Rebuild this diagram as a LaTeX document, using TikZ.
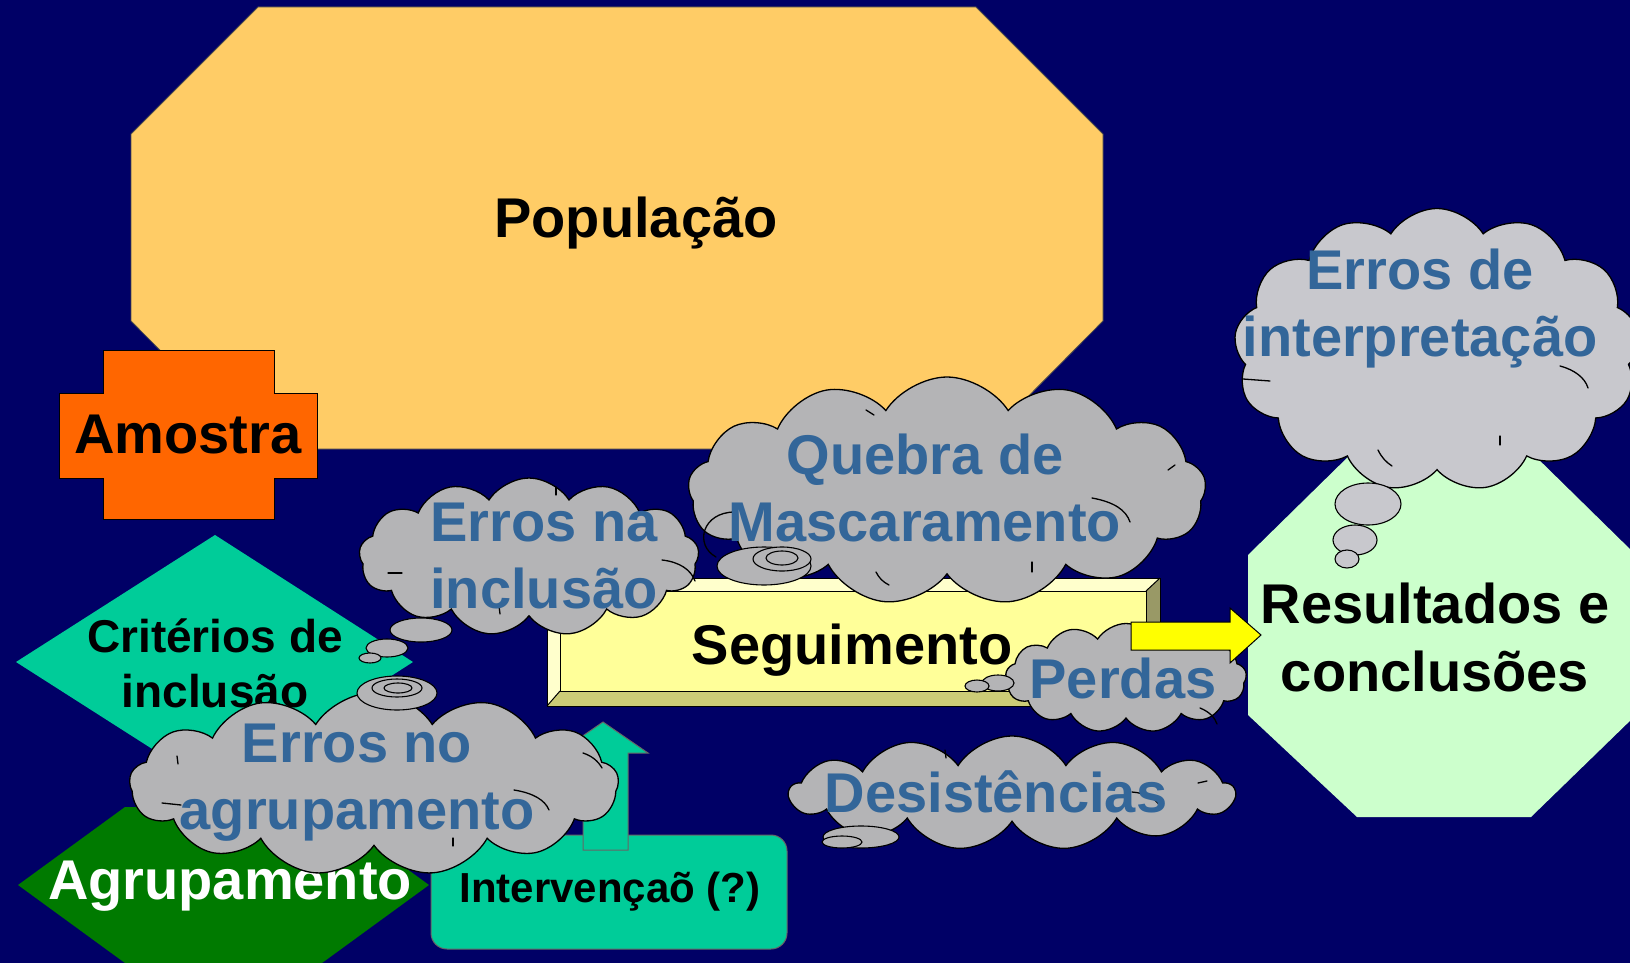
\documentclass[tikz,border=0pt]{standalone}
\usepackage{fontspec}
\setmainfont{Liberation Sans}
\usetikzlibrary{shapes.symbols,shapes.geometric}
\definecolor{navy}{RGB}{0,0,102}
\definecolor{popcol}{RGB}{255,204,102}
\definecolor{amocol}{RGB}{255,102,0}
\definecolor{teal}{RGB}{0,204,153}
\definecolor{agrcol}{RGB}{0,122,0}
\definecolor{segface}{RGB}{255,255,153}
\definecolor{seglight}{RGB}{255,255,204}
\definecolor{segdark}{RGB}{153,153,102}
\definecolor{segbot}{RGB}{204,204,119}
\definecolor{rescol}{RGB}{204,255,204}
\definecolor{cloudgray}{RGB}{180,180,182}
\definecolor{cloudlight}{RGB}{200,200,205}
\definecolor{cloudtext}{RGB}{51,102,153}
\definecolor{arrowyellow}{RGB}{255,255,0}
\tikzset{
  lbl/.style={font=\fontsize{56}{68}\selectfont\bfseries, text=black, align=center, inner sep=0pt},
  smalllbl/.style={font=\fontsize{46}{55}\selectfont\bfseries, text=black, align=center, inner sep=0pt},
  cloudlbl/.style={font=\fontsize{56}{67}\selectfont\bfseries, text=cloudtext, align=center, inner sep=0pt},
  cloudbox/.style={cloud, cloud puffs=13, cloud puff arc=115, cloud ignores aspect, fill=cloudgray, draw=black, line width=1.3pt, inner sep=0pt},
  bubble/.style={ellipse, fill=cloudgray, draw=black, line width=1.1pt, inner sep=0pt},
  crease/.style={draw=black, line width=1.3pt, line cap=round},
  outline/.style={draw=black, line width=1pt}
}
\begin{document}
\begin{tikzpicture}[x=1pt,y=-1pt]
\fill[navy] (0,0) rectangle (1630,963);
\useasboundingbox (0,0) rectangle (1630,963);

% Populacao
\draw[fill=popcol, draw=black!70, line width=0.8pt] (258,7) -- (976,7) -- (1103,134) -- (1103,321) -- (976,449) -- (258,449) -- (131,321) -- (131,134) -- cycle;
\node[lbl] (pop) at (636,223) {População};

% Amostra
\draw[fill=amocol, outline] (103,350) -- (274,350) -- (274,393) -- (317,393) -- (317,478) -- (274,478) -- (274,519) -- (103,519) -- (103,478) -- (59,478) -- (59,393) -- (103,393) -- cycle;
\node[lbl] (amo) at (188,435) {Amostra};

% Criterios de inclusao
\fill[teal] (16,662) -- (215,535) -- (413,662) -- (215,789) -- cycle;
\node[smalllbl] (crit) at (215,663) {Critérios de\\inclusão};

% Agrupamento
\fill[agrcol] (18,885) -- (125,807) -- (322,807) -- (429,885) -- (322,963) -- (125,963) -- cycle;
\node[lbl, text=white] (agr) at (230,886) {Agrupamento};

% Intervencao
\draw[fill=teal, draw=black!60, line width=1pt, rounded corners=16pt] (431,835) rectangle (787,949);
\node[font=\fontsize{42}{50}\selectfont\bfseries, inner sep=0pt] (int) at (610,892) {Intervençaõ (?)};

% green up arrow
\draw[fill=teal, draw=black!60, line width=1pt] (583,850) -- (583,753) -- (558,753) -- (603,722) -- (648,753) -- (628,753) -- (628,850) -- cycle;

% Seguimento bevel box
\fill[segface] (560,591) rectangle (1146,691);
\fill[seglight] (547,578) -- (1160,578) -- (1146,591) -- (560,591) -- cycle;
\fill[seglight] (547,578) -- (560,591) -- (560,691) -- (547,706) -- cycle;
\fill[segdark] (1160,578) -- (1160,706) -- (1146,691) -- (1146,591) -- cycle;
\fill[segbot] (547,706) -- (1160,706) -- (1146,691) -- (560,691) -- cycle;
\draw[outline] (547,578) rectangle (1160,706);
\draw[outline] (560,591) rectangle (1146,691);
\draw[outline] (547,578) -- (560,591) (1160,578) -- (1146,591) (1160,706) -- (1146,691) (547,706) -- (560,691);
\node[lbl] (seg) at (852,650) {Seguimento};

% cloud: Erros na inclusao
\node[cloudbox, minimum width=340pt, minimum height=158pt] (cna) at (529,557) {};
\draw[crease] (662,560) .. controls (680,562) and (691,570) .. (695,581);
\draw[crease] (388,573) -- (402,573);
\draw[crease] (499,606) -- (500,614);
\draw[crease] (556,487) -- (556,495);
\node[bubble, minimum width=62pt, minimum height=24pt] (bna1) at (421,630) {};
\node[bubble, minimum width=42pt, minimum height=18pt] (bna2) at (387,648) {};
\node[bubble, minimum width=22pt, minimum height=10pt] (bna3) at (370,658) {};
\node[cloudlbl] (tna) at (544,556) {Erros na\\inclusão};

% cloud: Quebra de Mascaramento
\node[cloudbox, minimum width=518pt, minimum height=228pt] (cq) at (947,491) {};
\draw[crease] (1092,498) .. controls (1114,502) and (1126,510) .. (1130,522);
\draw[crease] (735,512) .. controls (702,512) and (694,545) .. (716,557);
\draw[crease] (876,572) .. controls (879,578) and (883,582) .. (889,585);
\draw[crease] (1032,562) -- (1032,572);
\draw[crease] (866,410) -- (874,415);
\draw[crease] (1168,470) -- (1175,465);
\node[bubble, minimum width=94pt, minimum height=38pt] (bq1) at (764,566) {};
\node[bubble, minimum width=58pt, minimum height=24pt] (bq2) at (782,559) {};
\node[bubble, minimum width=32pt, minimum height=14pt] (bq3) at (782,558) {};
\node[cloudlbl] (tq) at (925,488) {Quebra de\\Mascaramento};

% cloud: Perdas
\node[cloudbox, minimum width=241pt, minimum height=109pt] (cp) at (1126,678) {};
\draw[crease] (1200,708) .. controls (1210,712) and (1215,718) .. (1217,724);
\node[bubble, minimum width=32pt, minimum height=16pt] (bp1) at (998,683) {};
\node[bubble, minimum width=24pt, minimum height=12pt] (bp2) at (977,686) {};
\node[cloudlbl] (tp) at (1123,678) {Perdas};

% cloud: Desistencias
\node[cloudbox, minimum width=445pt, minimum height=114pt] (cd) at (1012,793) {};
\draw[crease] (1132,792) .. controls (1145,793) and (1155,798) .. (1160,806);
\draw[crease] (1198,783) -- (1207,781);
\draw[crease] (945,750) -- (946,758);
\node[bubble, minimum width=76pt, minimum height=22pt] (bd1) at (861,837) {};
\node[bubble, minimum width=40pt, minimum height=12pt] (bd2) at (842,842) {};
\node[cloudlbl] (td) at (996,792) {Desistências};

% cloud: Erros no agrupamento
\node[cloudbox, minimum width=489pt, minimum height=183pt] (cno) at (374,784) {};
\draw[crease] (514,790) .. controls (533,793) and (545,800) .. (549,810);
\draw[crease] (162,803) -- (181,805);
\draw[crease] (583,753) .. controls (592,756) and (598,761) .. (602,768);
\draw[crease] (453,838) -- (453,846);
\draw[crease] (177,756) -- (178,764);
\node[bubble, minimum width=80pt, minimum height=34pt] (bno1) at (397,693) {};
\node[bubble, minimum width=50pt, minimum height=18pt] (bno2) at (397,688) {};
\node[bubble, minimum width=28pt, minimum height=10pt] (bno3) at (398,688) {};
\node[cloudlbl] (tno) at (357,783) {Erros no\\agrupamento};

% Resultados octagon
\fill[rescol] (1353,452) -- (1531,452) -- (1636,555) -- (1636,715) -- (1531,817) -- (1357,817) -- (1248,715) -- (1248,555) -- cycle;
\node[lbl] (res) at (1435,637) {Resultados e\\ conclusões};

% yellow arrow
\draw[fill=arrowyellow, outline] (1131,622) -- (1230,622) -- (1230,608) -- (1261,635) -- (1230,663) -- (1230,650) -- (1131,650) -- cycle;

% cloud: Erros de interpretacao
\node[cloudbox, fill=cloudlight, minimum width=406pt, minimum height=283pt] (ci) at (1437,350) {};
\draw[crease] (1560,366) .. controls (1575,370) and (1585,378) .. (1588,388);
\draw[crease] (1243,379) -- (1270,381);
\draw[crease] (1378,450) .. controls (1382,458) and (1386,462) .. (1392,466);
\draw[crease] (1500,436) -- (1500,445);
\node[bubble, fill=cloudlight, minimum width=66pt, minimum height=42pt] (bi1) at (1368,504) {};
\node[bubble, fill=cloudlight, minimum width=44pt, minimum height=30pt] (bi2) at (1355,540) {};
\node[bubble, fill=cloudlight, minimum width=24pt, minimum height=18pt] (bi3) at (1347,559) {};
\node[cloudlbl] (ti) at (1420,309) {Erros de\\interpretação};
\end{tikzpicture}
\end{document}
